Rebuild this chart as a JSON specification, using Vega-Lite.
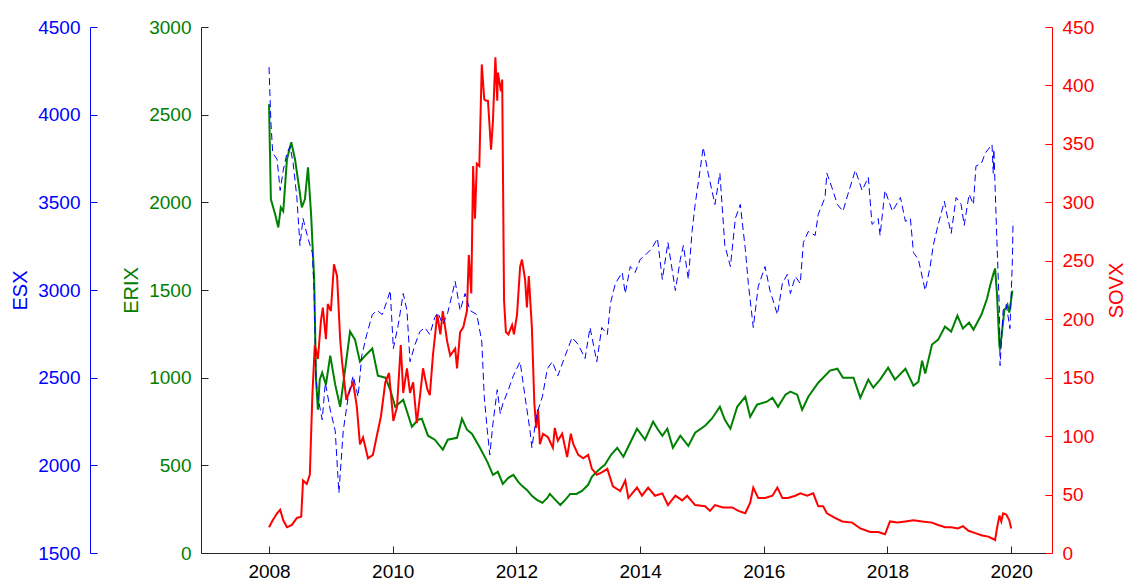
{
"$schema": "https://vega.github.io/schema/vega-lite/v6.json",
"width": 851,
"height": 526,
"autosize": {"type": "none"},
"padding": {"left": 201, "top": 27, "right": 74, "bottom": 33},
"config": {
  "view": {"stroke": null},
  "axis": {"grid": false, "labelFont": "Liberation Sans", "titleFont": "Liberation Sans", "labelFontSize": 19, "titleFontSize": 20, "titleFontWeight": "normal"}
},
"datasets": {
"erix": [
{"year":2008.00,"ERIX":2560},{"year":2008.03,"ERIX":2017},{"year":2008.10,"ERIX":1931},{"year":2008.15,"ERIX":1857},{"year":2008.19,"ERIX":1971},{"year":2008.23,"ERIX":1949},{"year":2008.29,"ERIX":2246},{"year":2008.36,"ERIX":2343},{"year":2008.42,"ERIX":2246},{"year":2008.49,"ERIX":2074},{"year":2008.53,"ERIX":1971},{"year":2008.58,"ERIX":2017},{"year":2008.63,"ERIX":2200},{"year":2008.68,"ERIX":1931},{"year":2008.73,"ERIX":1560},{"year":2008.76,"ERIX":989},{"year":2008.79,"ERIX":817},{"year":2008.82,"ERIX":989},{"year":2008.86,"ERIX":1029},{"year":2008.92,"ERIX":960},{"year":2008.99,"ERIX":1126},{"year":2009.07,"ERIX":960},{"year":2009.15,"ERIX":834},{"year":2009.23,"ERIX":1046},{"year":2009.31,"ERIX":1263},{"year":2009.39,"ERIX":1217},{"year":2009.47,"ERIX":1091},{"year":2009.57,"ERIX":1131},{"year":2009.67,"ERIX":1166},{"year":2009.76,"ERIX":1011},{"year":2009.88,"ERIX":1000},{"year":2009.96,"ERIX":931},{"year":2010.04,"ERIX":834},{"year":2010.17,"ERIX":874},{"year":2010.31,"ERIX":720},{"year":2010.41,"ERIX":760},{"year":2010.47,"ERIX":766},{"year":2010.57,"ERIX":669},{"year":2010.68,"ERIX":646},{"year":2010.81,"ERIX":589},{"year":2010.89,"ERIX":646},{"year":2011.04,"ERIX":657},{"year":2011.12,"ERIX":766},{"year":2011.20,"ERIX":703},{"year":2011.28,"ERIX":680},{"year":2011.41,"ERIX":600},{"year":2011.53,"ERIX":520},{"year":2011.62,"ERIX":446},{"year":2011.70,"ERIX":463},{"year":2011.78,"ERIX":394},{"year":2011.87,"ERIX":429},{"year":2011.95,"ERIX":446},{"year":2012.03,"ERIX":406},{"year":2012.09,"ERIX":383},{"year":2012.17,"ERIX":360},{"year":2012.25,"ERIX":326},{"year":2012.33,"ERIX":303},{"year":2012.42,"ERIX":286},{"year":2012.50,"ERIX":314},{"year":2012.54,"ERIX":337},{"year":2012.63,"ERIX":303},{"year":2012.71,"ERIX":274},{"year":2012.79,"ERIX":303},{"year":2012.87,"ERIX":337},{"year":2012.97,"ERIX":337},{"year":2013.06,"ERIX":354},{"year":2013.16,"ERIX":389},{"year":2013.22,"ERIX":434},{"year":2013.30,"ERIX":463},{"year":2013.37,"ERIX":486},{"year":2013.43,"ERIX":503},{"year":2013.53,"ERIX":560},{"year":2013.63,"ERIX":600},{"year":2013.73,"ERIX":549},{"year":2013.84,"ERIX":629},{"year":2013.95,"ERIX":709},{"year":2014.08,"ERIX":646},{"year":2014.21,"ERIX":749},{"year":2014.29,"ERIX":703},{"year":2014.36,"ERIX":669},{"year":2014.44,"ERIX":709},{"year":2014.53,"ERIX":600},{"year":2014.65,"ERIX":669},{"year":2014.78,"ERIX":611},{"year":2014.89,"ERIX":686},{"year":2015.05,"ERIX":726},{"year":2015.16,"ERIX":766},{"year":2015.29,"ERIX":834},{"year":2015.37,"ERIX":760},{"year":2015.46,"ERIX":709},{"year":2015.57,"ERIX":834},{"year":2015.70,"ERIX":891},{"year":2015.78,"ERIX":777},{"year":2015.89,"ERIX":846},{"year":2016.05,"ERIX":863},{"year":2016.14,"ERIX":886},{"year":2016.23,"ERIX":834},{"year":2016.35,"ERIX":903},{"year":2016.43,"ERIX":920},{"year":2016.54,"ERIX":903},{"year":2016.62,"ERIX":817},{"year":2016.72,"ERIX":891},{"year":2016.88,"ERIX":971},{"year":2017.07,"ERIX":1040},{"year":2017.19,"ERIX":1051},{"year":2017.28,"ERIX":1000},{"year":2017.45,"ERIX":1000},{"year":2017.56,"ERIX":886},{"year":2017.69,"ERIX":989},{"year":2017.77,"ERIX":943},{"year":2017.88,"ERIX":989},{"year":2018.01,"ERIX":1057},{"year":2018.12,"ERIX":989},{"year":2018.29,"ERIX":1051},{"year":2018.42,"ERIX":954},{"year":2018.50,"ERIX":977},{"year":2018.56,"ERIX":1097},{"year":2018.61,"ERIX":1023},{"year":2018.72,"ERIX":1189},{"year":2018.82,"ERIX":1217},{"year":2018.93,"ERIX":1291},{"year":2019.03,"ERIX":1263},{"year":2019.13,"ERIX":1354},{"year":2019.22,"ERIX":1280},{"year":2019.32,"ERIX":1314},{"year":2019.39,"ERIX":1274},{"year":2019.52,"ERIX":1360},{"year":2019.61,"ERIX":1451},{"year":2019.66,"ERIX":1526},{"year":2019.71,"ERIX":1589},{"year":2019.74,"ERIX":1623},{"year":2019.77,"ERIX":1480},{"year":2019.81,"ERIX":1183},{"year":2019.82,"ERIX":1160},{"year":2019.89,"ERIX":1383},{"year":2019.94,"ERIX":1417},{"year":2019.97,"ERIX":1371},{"year":2020.02,"ERIX":1497}
],
"esx": [
{"year":2008.00,"ESX":4271},{"year":2008.03,"ESX":3957},{"year":2008.06,"ESX":3780},{"year":2008.13,"ESX":3746},{"year":2008.18,"ESX":3568},{"year":2008.23,"ESX":3683},{"year":2008.29,"ESX":3780},{"year":2008.34,"ESX":3820},{"year":2008.39,"ESX":3723},{"year":2008.45,"ESX":3528},{"year":2008.50,"ESX":3254},{"year":2008.55,"ESX":3408},{"year":2008.63,"ESX":3294},{"year":2008.70,"ESX":3214},{"year":2008.73,"ESX":2980},{"year":2008.76,"ESX":2489},{"year":2008.79,"ESX":2391},{"year":2008.86,"ESX":2260},{"year":2008.91,"ESX":2471},{"year":2008.99,"ESX":2317},{"year":2009.07,"ESX":2197},{"year":2009.13,"ESX":1843},{"year":2009.20,"ESX":2197},{"year":2009.28,"ESX":2391},{"year":2009.36,"ESX":2511},{"year":2009.44,"ESX":2391},{"year":2009.50,"ESX":2626},{"year":2009.58,"ESX":2746},{"year":2009.67,"ESX":2860},{"year":2009.75,"ESX":2883},{"year":2009.83,"ESX":2860},{"year":2009.91,"ESX":2940},{"year":2009.96,"ESX":2997},{"year":2010.01,"ESX":2666},{"year":2010.09,"ESX":2803},{"year":2010.17,"ESX":2980},{"year":2010.23,"ESX":2883},{"year":2010.28,"ESX":2591},{"year":2010.36,"ESX":2689},{"year":2010.44,"ESX":2763},{"year":2010.52,"ESX":2786},{"year":2010.60,"ESX":2746},{"year":2010.68,"ESX":2843},{"year":2010.73,"ESX":2871},{"year":2010.81,"ESX":2803},{"year":2010.89,"ESX":2871},{"year":2011.01,"ESX":3049},{"year":2011.09,"ESX":2883},{"year":2011.17,"ESX":2980},{"year":2011.25,"ESX":2883},{"year":2011.36,"ESX":2860},{"year":2011.44,"ESX":2706},{"year":2011.48,"ESX":2391},{"year":2011.53,"ESX":2197},{"year":2011.57,"ESX":2060},{"year":2011.62,"ESX":2237},{"year":2011.69,"ESX":2431},{"year":2011.74,"ESX":2294},{"year":2011.78,"ESX":2351},{"year":2011.87,"ESX":2431},{"year":2011.95,"ESX":2511},{"year":2012.06,"ESX":2591},{"year":2012.14,"ESX":2391},{"year":2012.22,"ESX":2197},{"year":2012.25,"ESX":2100},{"year":2012.33,"ESX":2294},{"year":2012.42,"ESX":2391},{"year":2012.50,"ESX":2551},{"year":2012.58,"ESX":2591},{"year":2012.67,"ESX":2511},{"year":2012.79,"ESX":2626},{"year":2012.90,"ESX":2729},{"year":2013.00,"ESX":2689},{"year":2013.11,"ESX":2609},{"year":2013.19,"ESX":2786},{"year":2013.30,"ESX":2591},{"year":2013.38,"ESX":2786},{"year":2013.47,"ESX":2746},{"year":2013.52,"ESX":2923},{"year":2013.60,"ESX":3037},{"year":2013.71,"ESX":3100},{"year":2013.76,"ESX":2980},{"year":2013.84,"ESX":3134},{"year":2013.92,"ESX":3100},{"year":2014.00,"ESX":3174},{"year":2014.08,"ESX":3197},{"year":2014.19,"ESX":3237},{"year":2014.28,"ESX":3294},{"year":2014.36,"ESX":3060},{"year":2014.45,"ESX":3271},{"year":2014.57,"ESX":2997},{"year":2014.65,"ESX":3174},{"year":2014.70,"ESX":3254},{"year":2014.78,"ESX":3060},{"year":2014.84,"ESX":3334},{"year":2014.89,"ESX":3488},{"year":2014.97,"ESX":3683},{"year":2015.02,"ESX":3814},{"year":2015.10,"ESX":3666},{"year":2015.21,"ESX":3488},{"year":2015.29,"ESX":3666},{"year":2015.37,"ESX":3254},{"year":2015.46,"ESX":3134},{"year":2015.54,"ESX":3408},{"year":2015.62,"ESX":3488},{"year":2015.70,"ESX":3237},{"year":2015.75,"ESX":3037},{"year":2015.83,"ESX":2786},{"year":2015.91,"ESX":3020},{"year":2016.02,"ESX":3134},{"year":2016.10,"ESX":2997},{"year":2016.22,"ESX":2860},{"year":2016.30,"ESX":3037},{"year":2016.38,"ESX":3089},{"year":2016.43,"ESX":2980},{"year":2016.51,"ESX":3077},{"year":2016.59,"ESX":3037},{"year":2016.64,"ESX":3271},{"year":2016.72,"ESX":3334},{"year":2016.83,"ESX":3311},{"year":2016.88,"ESX":3431},{"year":2016.99,"ESX":3528},{"year":2017.02,"ESX":3666},{"year":2017.10,"ESX":3586},{"year":2017.19,"ESX":3488},{"year":2017.28,"ESX":3449},{"year":2017.36,"ESX":3546},{"year":2017.48,"ESX":3683},{"year":2017.59,"ESX":3568},{"year":2017.69,"ESX":3643},{"year":2017.75,"ESX":3374},{"year":2017.85,"ESX":3408},{"year":2017.88,"ESX":3311},{"year":2017.96,"ESX":3568},{"year":2018.08,"ESX":3449},{"year":2018.21,"ESX":3528},{"year":2018.29,"ESX":3391},{"year":2018.37,"ESX":3408},{"year":2018.42,"ESX":3214},{"year":2018.50,"ESX":3174},{"year":2018.61,"ESX":2997},{"year":2018.69,"ESX":3134},{"year":2018.74,"ESX":3254},{"year":2018.82,"ESX":3374},{"year":2018.92,"ESX":3506},{"year":2018.96,"ESX":3431},{"year":2019.03,"ESX":3323},{"year":2019.11,"ESX":3528},{"year":2019.19,"ESX":3488},{"year":2019.24,"ESX":3369},{"year":2019.32,"ESX":3546},{"year":2019.39,"ESX":3488},{"year":2019.43,"ESX":3706},{"year":2019.52,"ESX":3723},{"year":2019.58,"ESX":3780},{"year":2019.63,"ESX":3803},{"year":2019.69,"ESX":3831},{"year":2019.71,"ESX":3666},{"year":2019.72,"ESX":3803},{"year":2019.77,"ESX":3271},{"year":2019.81,"ESX":2883},{"year":2019.82,"ESX":2569},{"year":2019.87,"ESX":2883},{"year":2019.92,"ESX":2917},{"year":2019.98,"ESX":2780},{"year":2020.02,"ESX":3174},{"year":2020.03,"ESX":3391}
],
"sovx": [
{"year":2008.00,"SOVX":22},{"year":2008.06,"SOVX":28},{"year":2008.13,"SOVX":34},{"year":2008.18,"SOVX":37},{"year":2008.23,"SOVX":28},{"year":2008.29,"SOVX":22},{"year":2008.37,"SOVX":24},{"year":2008.45,"SOVX":30},{"year":2008.52,"SOVX":31},{"year":2008.53,"SOVX":41},{"year":2008.55,"SOVX":62},{"year":2008.61,"SOVX":59},{"year":2008.66,"SOVX":67},{"year":2008.70,"SOVX":134},{"year":2008.74,"SOVX":178},{"year":2008.79,"SOVX":166},{"year":2008.84,"SOVX":199},{"year":2008.87,"SOVX":210},{"year":2008.92,"SOVX":183},{"year":2008.95,"SOVX":213},{"year":2009.00,"SOVX":207},{"year":2009.05,"SOVX":247},{"year":2009.10,"SOVX":237},{"year":2009.15,"SOVX":183},{"year":2009.18,"SOVX":164},{"year":2009.25,"SOVX":131},{"year":2009.31,"SOVX":140},{"year":2009.36,"SOVX":146},{"year":2009.42,"SOVX":125},{"year":2009.47,"SOVX":93},{"year":2009.52,"SOVX":99},{"year":2009.60,"SOVX":81},{"year":2009.68,"SOVX":84},{"year":2009.75,"SOVX":102},{"year":2009.81,"SOVX":117},{"year":2009.88,"SOVX":146},{"year":2009.94,"SOVX":154},{"year":2010.01,"SOVX":113},{"year":2010.07,"SOVX":125},{"year":2010.13,"SOVX":178},{"year":2010.17,"SOVX":137},{"year":2010.23,"SOVX":158},{"year":2010.28,"SOVX":137},{"year":2010.33,"SOVX":146},{"year":2010.39,"SOVX":111},{"year":2010.44,"SOVX":134},{"year":2010.49,"SOVX":158},{"year":2010.56,"SOVX":140},{"year":2010.60,"SOVX":135},{"year":2010.65,"SOVX":169},{"year":2010.72,"SOVX":204},{"year":2010.77,"SOVX":187},{"year":2010.81,"SOVX":207},{"year":2010.88,"SOVX":181},{"year":2010.93,"SOVX":169},{"year":2011.01,"SOVX":175},{"year":2011.04,"SOVX":158},{"year":2011.09,"SOVX":189},{"year":2011.14,"SOVX":193},{"year":2011.20,"SOVX":207},{"year":2011.23,"SOVX":255},{"year":2011.27,"SOVX":222},{"year":2011.30,"SOVX":331},{"year":2011.33,"SOVX":286},{"year":2011.36,"SOVX":333},{"year":2011.40,"SOVX":331},{"year":2011.44,"SOVX":418},{"year":2011.48,"SOVX":388},{"year":2011.51,"SOVX":387},{"year":2011.54,"SOVX":387},{"year":2011.59,"SOVX":345},{"year":2011.62,"SOVX":369},{"year":2011.66,"SOVX":424},{"year":2011.69,"SOVX":387},{"year":2011.70,"SOVX":411},{"year":2011.75,"SOVX":395},{"year":2011.77,"SOVX":405},{"year":2011.80,"SOVX":216},{"year":2011.83,"SOVX":189},{"year":2011.87,"SOVX":187},{"year":2011.93,"SOVX":195},{"year":2011.96,"SOVX":187},{"year":2012.01,"SOVX":204},{"year":2012.06,"SOVX":245},{"year":2012.09,"SOVX":251},{"year":2012.14,"SOVX":234},{"year":2012.17,"SOVX":210},{"year":2012.20,"SOVX":237},{"year":2012.25,"SOVX":193},{"year":2012.29,"SOVX":128},{"year":2012.32,"SOVX":107},{"year":2012.35,"SOVX":123},{"year":2012.38,"SOVX":93},{"year":2012.43,"SOVX":102},{"year":2012.51,"SOVX":99},{"year":2012.59,"SOVX":90},{"year":2012.62,"SOVX":107},{"year":2012.67,"SOVX":96},{"year":2012.74,"SOVX":102},{"year":2012.82,"SOVX":82},{"year":2012.88,"SOVX":102},{"year":2012.92,"SOVX":93},{"year":2013.00,"SOVX":84},{"year":2013.08,"SOVX":81},{"year":2013.16,"SOVX":84},{"year":2013.22,"SOVX":72},{"year":2013.30,"SOVX":67},{"year":2013.38,"SOVX":69},{"year":2013.47,"SOVX":72},{"year":2013.56,"SOVX":57},{"year":2013.68,"SOVX":53},{"year":2013.76,"SOVX":62},{"year":2013.81,"SOVX":47},{"year":2013.95,"SOVX":56},{"year":2014.03,"SOVX":49},{"year":2014.13,"SOVX":56},{"year":2014.24,"SOVX":49},{"year":2014.36,"SOVX":51},{"year":2014.45,"SOVX":41},{"year":2014.57,"SOVX":49},{"year":2014.68,"SOVX":45},{"year":2014.76,"SOVX":49},{"year":2014.89,"SOVX":41},{"year":2015.05,"SOVX":40},{"year":2015.13,"SOVX":36},{"year":2015.21,"SOVX":41},{"year":2015.34,"SOVX":39},{"year":2015.49,"SOVX":39},{"year":2015.59,"SOVX":36},{"year":2015.70,"SOVX":34},{"year":2015.78,"SOVX":43},{"year":2015.83,"SOVX":56},{"year":2015.91,"SOVX":47},{"year":2016.02,"SOVX":47},{"year":2016.14,"SOVX":49},{"year":2016.22,"SOVX":56},{"year":2016.30,"SOVX":47},{"year":2016.39,"SOVX":47},{"year":2016.51,"SOVX":49},{"year":2016.59,"SOVX":51},{"year":2016.70,"SOVX":49},{"year":2016.80,"SOVX":51},{"year":2016.88,"SOVX":40},{"year":2016.96,"SOVX":40},{"year":2017.02,"SOVX":34},{"year":2017.15,"SOVX":30},{"year":2017.27,"SOVX":27},{"year":2017.43,"SOVX":26},{"year":2017.56,"SOVX":21},{"year":2017.72,"SOVX":18},{"year":2017.85,"SOVX":18},{"year":2017.96,"SOVX":16},{"year":2018.04,"SOVX":27},{"year":2018.16,"SOVX":26},{"year":2018.29,"SOVX":27},{"year":2018.42,"SOVX":28},{"year":2018.56,"SOVX":27},{"year":2018.72,"SOVX":26},{"year":2018.82,"SOVX":24},{"year":2018.93,"SOVX":22},{"year":2019.03,"SOVX":22},{"year":2019.14,"SOVX":21},{"year":2019.22,"SOVX":23},{"year":2019.31,"SOVX":19},{"year":2019.42,"SOVX":17},{"year":2019.53,"SOVX":15},{"year":2019.63,"SOVX":14},{"year":2019.71,"SOVX":12},{"year":2019.74,"SOVX":11},{"year":2019.77,"SOVX":21},{"year":2019.81,"SOVX":32},{"year":2019.84,"SOVX":27},{"year":2019.87,"SOVX":34},{"year":2019.92,"SOVX":33},{"year":2019.97,"SOVX":28},{"year":2020.00,"SOVX":21}
]
},
"layer": [
  {
    "data": {"name": "erix"},
    "mark": {"type": "line", "color": "#008000", "strokeWidth": 2},
    "encoding": {
      "x": {"field": "year", "type": "quantitative",
        "scale": {"domain": [2006.9, 2020.66], "nice": false, "zero": false},
        "axis": {"values": [2008, 2010, 2012, 2014, 2016, 2018, 2020], "format": "d", "title": null,
          "domainColor": "#262626", "tickColor": "#262626", "labelColor": "#000000",
          "tickSize": -7, "labelPadding": 16}},
      "y": {"field": "ERIX", "type": "quantitative",
        "scale": {"domain": [0, 3000], "nice": false},
        "axis": {"orient": "left", "values": [0, 500, 1000, 1500, 2000, 2500, 3000], "format": "d", "title": "ERIX",
          "titleColor": "#008000", "labelColor": "#008000", "domainColor": "#262626", "tickColor": "#262626",
          "tickSize": -7, "labelPadding": 17, "titlePadding": 7}}
    }
  },
  {
    "data": {"name": "sovx"},
    "mark": {"type": "line", "color": "#FF0000", "strokeWidth": 2},
    "encoding": {
      "x": {"field": "year", "type": "quantitative"},
      "y": {"field": "SOVX", "type": "quantitative",
        "scale": {"domain": [0, 450], "nice": false},
        "axis": {"orient": "right", "values": [0, 50, 100, 150, 200, 250, 300, 350, 400, 450], "format": "d", "title": "SOVX",
          "titleColor": "#FF0000", "labelColor": "#FF0000", "domainColor": "#FF0000", "tickColor": "#FF0000",
          "tickSize": -7, "labelPadding": 17, "titlePadding": 33, "titleAngle": 270}}
    }
  },
  {
    "data": {"name": "esx"},
    "mark": {"type": "line", "color": "#0000FF", "strokeWidth": 1, "strokeDash": [7, 4]},
    "encoding": {
      "x": {"field": "year", "type": "quantitative"},
      "y": {"field": "ESX", "type": "quantitative",
        "scale": {"domain": [1500, 4500], "nice": false, "zero": false},
        "axis": {"orient": "left", "offset": 111, "values": [1500, 2000, 2500, 3000, 3500, 4000, 4500], "format": "d", "title": "ESX",
          "titleColor": "#0000FF", "labelColor": "#0000FF", "domainColor": "#0000FF", "tickColor": "#0000FF",
          "tickSize": -7, "labelPadding": 17, "titlePadding": 7}}
    }
  }
],
"resolve": {"scale": {"y": "independent"}, "axis": {"y": "independent"}}
}
